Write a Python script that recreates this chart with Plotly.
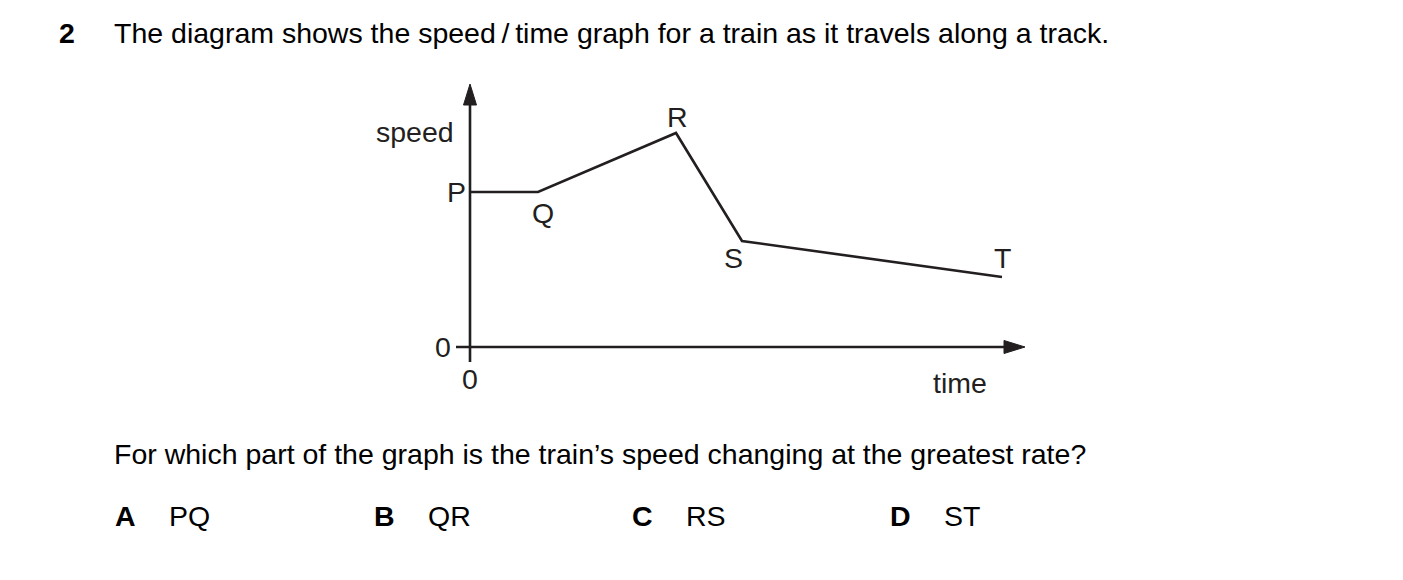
import plotly.graph_objects as go

# --- data (time, speed in arbitrary units) ---
point_labels = ["P", "Q", "R", "S", "T"]
time_vals = [0.0, 6.8, 20.6, 27.2, 53.2]
speed_vals = [15.5, 15.5, 21.4, 10.6, 7.0]
# label offsets in px (xshift, yshift)
label_offsets = [(-14, 0), (5, -21), (1, 16), (-9, -17), (0, 19)]

question_number = "2"
stem = "The diagram shows the speed\u2009/\u2009time graph for a train as it travels along a track."
question = "For which part of the graph is the train\u2019s speed changing at the greatest rate?"
option_letters = ["A", "B", "C", "D"]
option_texts = ["PQ", "QR", "RS", "ST"]
option_px = [113, 372, 630, 888]

PAGE_OFF = 8  # default body margin of the html page
W, H = 1403 - PAGE_OFF, 580 - PAGE_OFF
INK = "#231f20"
FONT = "Liberation Sans, Arial, sans-serif"
FS = 28.5

fig = go.Figure()

# axes lines
fig.add_trace(go.Scatter(x=[-1.4, 53.6], y=[0, 0], mode="lines",
                         line=dict(color=INK, width=2.6), hoverinfo="skip", showlegend=False))
fig.add_trace(go.Scatter(x=[0, 0], y=[-1.5, 24.2], mode="lines",
                         line=dict(color=INK, width=2.6), hoverinfo="skip", showlegend=False))
# arrowheads
fig.add_trace(go.Scatter(x=[53.4, 55.5, 53.4, 53.4], y=[0.65, 0, -0.65, 0.65], mode="lines",
                         fill="toself", fillcolor=INK, line=dict(color=INK, width=1),
                         hoverinfo="skip", showlegend=False))
fig.add_trace(go.Scatter(x=[-0.65, 0, 0.65, -0.65], y=[24.2, 26.3, 24.2, 24.2], mode="lines",
                         fill="toself", fillcolor=INK, line=dict(color=INK, width=1),
                         hoverinfo="skip", showlegend=False))

# speed/time graph
fig.add_trace(go.Scatter(x=time_vals, y=speed_vals, mode="lines",
                         line=dict(color=INK, width=2.6), hoverinfo="skip", showlegend=False))

annotations = []
for lab, t, s, (dx, dy) in zip(point_labels, time_vals, speed_vals, label_offsets):
    annotations.append(dict(x=t, y=s, xref="x", yref="y", text=lab, showarrow=False,
                            xshift=dx, yshift=dy, font=dict(size=FS, color=INK, family=FONT)))

# axis labels
annotations += [
    dict(x=-2.7, y=0, xref="x", yref="y", text="0", showarrow=False, font=dict(size=FS, color=INK, family=FONT)),
    dict(x=0, y=-3.2, xref="x", yref="y", text="0", showarrow=False, font=dict(size=FS, color=INK, family=FONT)),
    dict(x=-5.5, y=21.5, xref="x", yref="y", text="speed", showarrow=False, font=dict(size=FS, color=INK, family=FONT)),
    dict(x=49.0, y=-3.6, xref="x", yref="y", text="time", showarrow=False, font=dict(size=FS, color=INK, family=FONT)),
]

def px(xp, yp):
    return (xp - PAGE_OFF) / W, 1 - (yp - PAGE_OFF) / H

# header text
x0, y0 = px(57, 33)
annotations.append(dict(x=x0, y=y0, xref="paper", yref="paper", xanchor="left", yanchor="middle",
                        text="<b>" + question_number + "</b>", showarrow=False,
                        font=dict(size=FS, color="black", family=FONT)))
x0, y0 = px(112, 33)
annotations.append(dict(x=x0, y=y0, xref="paper", yref="paper", xanchor="left", yanchor="middle",
                        text=stem, showarrow=False, font=dict(size=FS, color="black", family=FONT)))
x0, y0 = px(112, 454)
annotations.append(dict(x=x0, y=y0, xref="paper", yref="paper", xanchor="left", yanchor="middle",
                        text=question, showarrow=False, font=dict(size=FS, color="black", family=FONT)))
for L, T, xp in zip(option_letters, option_texts, option_px):
    x0, y0 = px(xp, 516)
    annotations.append(dict(x=x0, y=y0, xref="paper", yref="paper", xanchor="left", yanchor="middle",
                            text="<b>" + L + "</b>", showarrow=False, font=dict(size=FS, color="black", family=FONT)))
    x1, _ = px(xp + 54, 516)
    annotations.append(dict(x=x1, y=y0, xref="paper", yref="paper", xanchor="left", yanchor="middle",
                            text=T, showarrow=False, font=dict(size=FS, color="black", family=FONT)))

fig.update_layout(
    width=W, height=H, margin=dict(l=0, r=0, t=0, b=0),
    paper_bgcolor="white", plot_bgcolor="white",
    xaxis=dict(range=[(PAGE_OFF - 470) / 10, (1403 - 470) / 10], visible=False, fixedrange=True),
    yaxis=dict(range=[(347 - 580) / 10, (347 - PAGE_OFF) / 10], visible=False, fixedrange=True),
    annotations=annotations, showlegend=False,
)

fig.write_html("out.html")
